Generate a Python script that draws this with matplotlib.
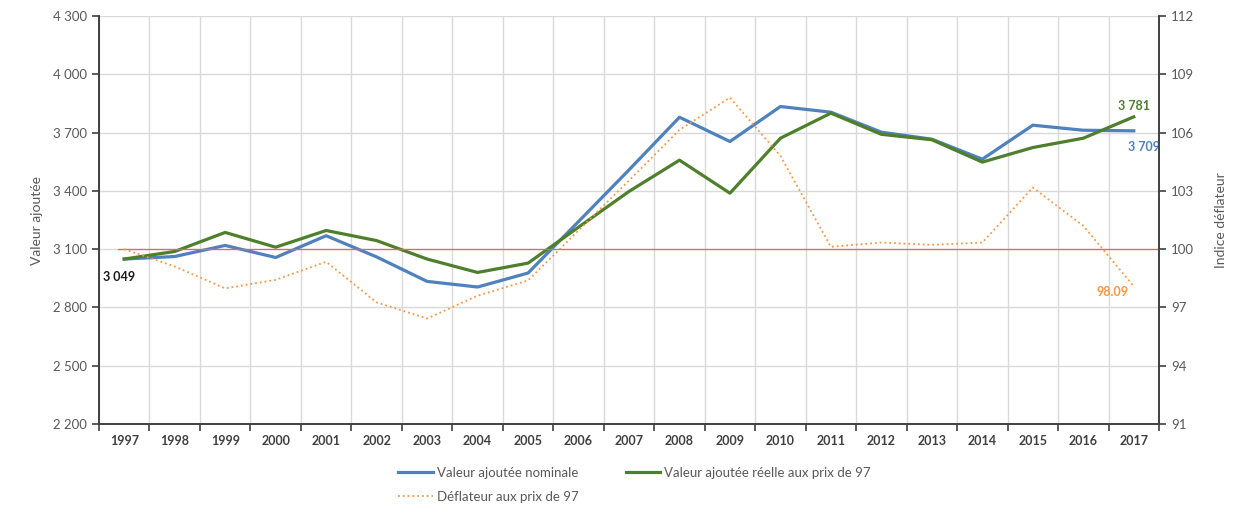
import matplotlib.pyplot as plt
import numpy as np

plt.rcParams['font.family'] = ['Lato', 'DejaVu Sans']

years = [str(y) for y in range(1997, 2018)]
nominale = [3049, 3062, 3119, 3057, 3169, 3060, 2934, 2905, 2977, 3242, 3508,
            3779, 3654, 3834, 3805, 3702, 3666, 3563, 3738, 3712, 3709]
reelle = [3049, 3088, 3186, 3110, 3196, 3144, 3049, 2980, 3028, 3213, 3397,
          3558, 3388, 3671, 3800, 3691, 3663, 3548, 3623, 3671, 3781]
deflateur = [100.0, 99.11, 97.98, 98.42, 99.35, 97.26, 96.43, 97.6, 98.39, 100.96, 103.53,
             106.14, 107.8, 104.8, 100.12, 100.34, 100.22, 100.34, 103.17, 101.2, 98.09]

blue = '#4F81BD'
green = '#4E7F2C'
orange = '#F79646'
grey = '#595959'


def fmt(v):
    return f"{v:,.0f}".replace(",", " ")


fig = plt.figure(figsize=(12.48, 5.13), dpi=100)
ax = fig.add_axes([0.0793, 0.1735, 0.8494, 0.7953])
ax2 = ax.twinx()

x = np.arange(len(years))

# grid
ax.set_xlim(-0.5, len(years) - 0.5)
ax.set_ylim(2200, 4300)
yt = np.arange(2200, 4301, 300)
ax.set_yticks(yt)
ax.set_yticklabels([fmt(v) for v in yt])
ax.set_xticks(x)
ax.set_xticklabels(years, fontweight='bold')
ax.set_xticks(np.arange(-0.5, len(years), 1), minor=True)
ax.grid(True, axis='y', color='#D9D9D9', linewidth=1)
ax.grid(True, axis='x', which='minor', color='#D9D9D9', linewidth=1)
ax.tick_params(axis='x', which='major', length=0, pad=8, labelsize=9, labelcolor='#404040')
ax.tick_params(axis='x', which='minor', length=5, width=1.2, color='#404040')
ax.tick_params(axis='y', length=5, width=1.2, color='#404040', labelsize=9.5, labelcolor=grey)
ax.set_axisbelow(True)

ax.plot(x, nominale, color=blue, linewidth=2.3, label='Valeur ajoutée nominale', zorder=3)
ax.plot(x, reelle, color=green, linewidth=2.3, label='Valeur ajoutée réelle aux prix de 97', zorder=4)

ax2.set_ylim(91, 112)
ax2.set_yticks(np.arange(91, 113, 3))
ax2.tick_params(axis='y', length=5, width=1.2, color='#404040', labelsize=9.5, labelcolor=grey)
ax2.axhline(100, xmin=0.018, xmax=1, color='#F06060', linewidth=0.9, zorder=1)
ax2.plot(x, deflateur, color=orange, linewidth=1.3, linestyle=':', label='Déflateur aux prix de 97')

for a in (ax, ax2):
    a.spines['top'].set_visible(False)
    for s in ('left', 'right', 'bottom'):
        a.spines[s].set_color('#404040')
        a.spines[s].set_linewidth(1.2)

ax.set_ylabel('Valeur ajoutée', color=grey, fontsize=10)
ax.yaxis.set_label_coords(-0.053, 0.5)
ax2.set_ylabel('Indice déflateur', color=grey, fontsize=10)
ax2.yaxis.set_label_coords(1.053, 0.5)

# value labels
ax.annotate(fmt(nominale[0]), (x[0], nominale[0]), xytext=(-4, -13), textcoords='offset points',
            ha='center', va='center', fontsize=9, fontweight='bold', color='#1a1a1a')
ax.annotate(fmt(reelle[-1]), (x[-1], reelle[-1]), xytext=(0, 8), textcoords='offset points',
            ha='center', va='center', fontsize=9, fontweight='bold', color=green)
ax.annotate(fmt(nominale[-1]), (x[-1], nominale[-1]), xytext=(7, -12), textcoords='offset points',
            ha='center', va='center', fontsize=9, fontweight='bold', color=blue)
ax2.annotate(f"{deflateur[-1]:.2f}", (x[-1], deflateur[-1]), xytext=(-15, -4), textcoords='offset points',
             ha='center', va='center', fontsize=9, fontweight='bold', color=orange)

h1, l1 = ax.get_legend_handles_labels()
h2, l2 = ax2.get_legend_handles_labels()
handles = [h1[0], h2[0], h1[1]]
labels = [l1[0], l2[0], l1[1]]
fig.legend(handles, labels, loc='upper left', bbox_to_anchor=(0.315, 0.1), ncol=2, frameon=False,
           fontsize=9.5, labelcolor=grey, handlelength=2.6, handletextpad=0.3,
           columnspacing=3.6, labelspacing=0.9, borderaxespad=0)

fig.savefig('out.png', dpi=100)
